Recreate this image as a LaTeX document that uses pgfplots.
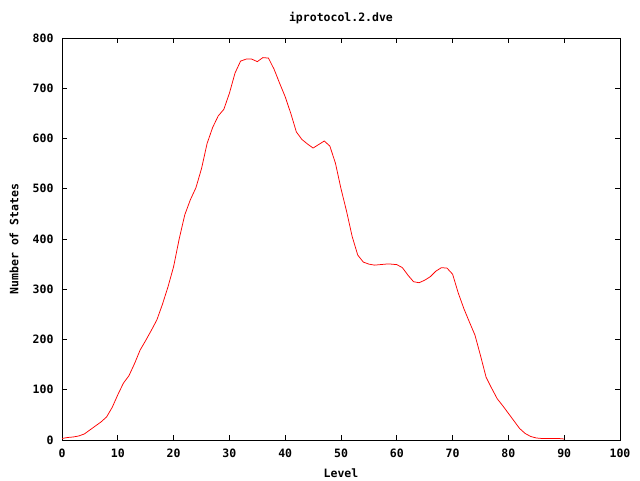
\documentclass[border=0pt]{standalone}
\usepackage{pgfplots}
\pgfplotsset{compat=1.18}
\usepackage{fontspec}
\newfontfamily\gpfont{DejaVu Sans Mono}
\newcommand\gp{\gpfont\bfseries\fontsize{11.5bp}{13bp}\selectfont}
\begin{document}
\begin{tikzpicture}
\begin{axis}[
  scale only axis, width=558bp, height=402bp,
  xmin=0, xmax=100, ymin=0, ymax=800,
  xtick={0,10,...,100}, ytick={0,100,...,800},
  tick align=inside, major tick length=5bp,
  axis line style={line width=0.8bp},
  every tick/.style={black, line width=0.8bp},
  /pgf/number format/assume math mode=true,
  tick label style={font=\gp},
  xticklabel style={anchor=center, yshift=-13bp},
  yticklabel style={anchor=east, xshift=-5bp},
  every axis title shift=0pt,
  title={iprotocol.2.dve},
  title style={font=\gp, at={(axis description cs:0.5,1)}, anchor=center, yshift=20bp},
  xlabel={Level},
  xlabel style={font=\gp, at={(axis description cs:0.5,0)}, anchor=center, yshift=-33bp},
  ylabel={Number of States},
  ylabel style={font=\gp, at={(axis description cs:0,0.5)}, anchor=center, yshift=48bp},
]
\addplot[red, line width=0.75bp, mark=none] coordinates {
(0,3)(1,5)(2,6)(3,8)(4,12)(5,20)(6,28)(7,36)(8,46)(9,65)
(10,90)(11,113)(12,128)(13,152)(14,179)(15,198)(16,218)(17,239)(18,270)(19,305)
(20,345)(21,400)(22,448)(23,478)(24,502)(25,540)(26,590)(27,622)(28,645)(29,658)
(30,690)(31,730)(32,754)(33,758)(34,758)(35,753)(36,761)(37,760)(38,738)(39,710)
(40,683)(41,650)(42,613)(43,598)(44,589)(45,581)(46,588)(47,595)(48,585)(49,551)
(50,500)(51,455)(52,405)(53,368)(54,354)(55,350)(56,348)(57,349)(58,350)(59,350)
(60,349)(61,343)(62,328)(63,315)(64,313)(65,318)(66,325)(67,336)(68,343)(69,342)
(70,330)(71,293)(72,262)(73,235)(74,209)(75,168)(76,125)(77,103)(78,82)(79,68)
(80,53)(81,38)(82,23)(83,13)(84,7)(85,4)(86,3)(87,3)(88,3)(89,3)(90,2)
};
\end{axis}
\path (current axis.south west) ++(-62bp,-40bp) rectangle ++(640bp,480bp);
\end{tikzpicture}
\end{document}
